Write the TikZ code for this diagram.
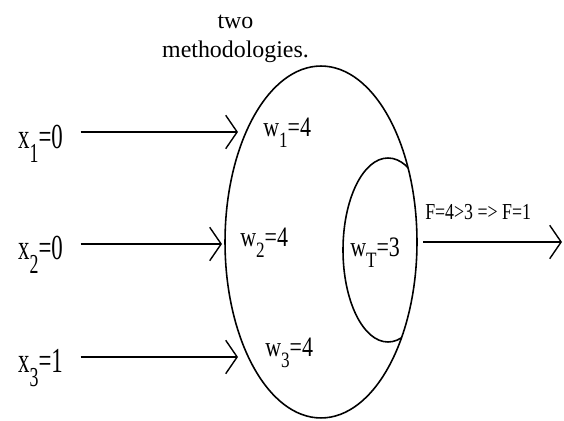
\documentclass[tikz,border=0pt]{standalone}
\usepackage{fontspec}
\setmainfont{Liberation Serif}
\usetikzlibrary{arrows.meta,shapes.geometric}
\newcommand{\idx}[1]{\raisebox{-0.38em}{\scalebox{0.78}{#1}}}

\begin{document}
\begin{tikzpicture}[x=0.02cm,y=-0.02cm]
  \tikzstyle{arr}=[line width=1.6pt,-{Straight Barb[length=6.5pt,width=19pt,line width=0.8pt]}]
  \tikzstyle{inp}=[font=\fontsize{20}{22}\selectfont,xscale=0.65,inner sep=0pt,anchor=base west]
  \tikzstyle{wgt}=[font=\fontsize{16}{18}\selectfont,xscale=0.78,inner sep=0pt,anchor=base west]
  \useasboundingbox (0,0) rectangle (564,421);

  \node[font=\fontsize{13.6}{17}\selectfont,align=center,anchor=base] (cap) at (235.5,58) {two\\methodologies.};

  \node[draw,ellipse,line width=0.9pt,inner sep=0pt,minimum width=3.84cm,minimum height=7.04cm] (cell) at (321,242) {};
  \begin{scope}
    \clip (cell.center) ellipse [x radius=96,y radius=176];
    \draw[line width=0.9pt] (388,250) ellipse [x radius=45,y radius=92];
  \end{scope}

  \node[inp] (x1) at (18,149) {x\idx{1}=0};
  \node[inp] (x2) at (18,260) {x\idx{2}=0};
  \node[inp] (x3) at (18,373) {x\idx{3}=1};

  \node[wgt] (w1) at (263,137) {w\idx{1}=4};
  \node[wgt] (w2) at (240,247) {w\idx{2}=4};
  \node[wgt] (w3) at (265,357) {w\idx{3}=4};
  \node[wgt] (wT) at (350,257) {w\idx{T}=3};

  \coordinate (t1) at (238,132);
  \coordinate (t2) at (222,244);
  \coordinate (t3) at (238,357);
  \coordinate (fo) at (562,243);

  \draw[arr,shorten <=10pt] (x1.east |- t1) -- (t1);
  \draw[arr,shorten <=10pt] (x2.east |- t2) -- (t2);
  \draw[arr,shorten <=10pt] (x3.east |- t3) -- (t3);
  \draw[arr,shorten <=3pt] (cell.east) -- (cell.east -| fo);

  \node[font=\fontsize{13}{15}\selectfont,xscale=0.78,inner sep=0pt,anchor=base west] (res) at (425,220) {F=4>3 => F=1};
\end{tikzpicture}
\end{document}
